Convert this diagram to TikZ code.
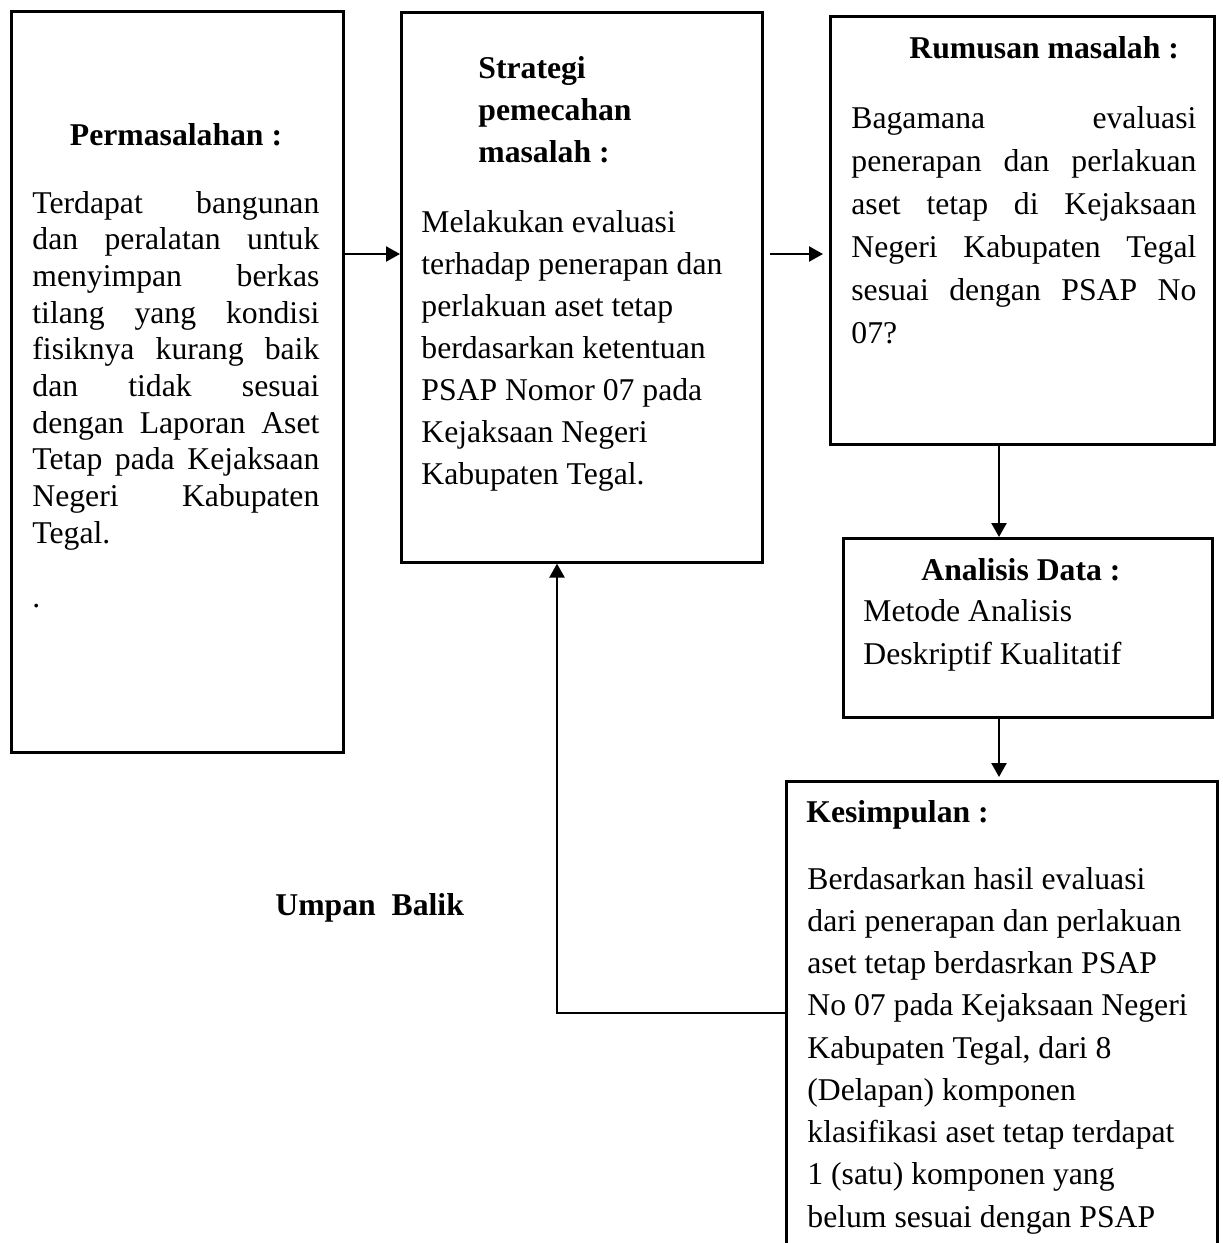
\documentclass[tikz,border=0pt]{standalone}
\usepackage{fontspec}
\setmainfont{Liberation Serif}
\usepackage{tikz}
\usetikzlibrary{arrows.meta}

\newcommand{\huruf}[1]{\fontsize{15.85pt}{#1}\selectfont}
\tolerance=10000
\hbadness=10000
\hyphenpenalty=10000

\begin{document}
\begin{tikzpicture}[
    x=0.5pt, y=-0.5pt,
    kotak/.style={rectangle, draw, line width=1.3pt, inner sep=0pt, anchor=north west},
    judul/.style={inner sep=0pt, anchor=base west, font=\huruf{21pt}\bfseries},
    isi/.style={inner sep=0pt, anchor=base west, font=\huruf{#1}},
    panah/.style={line width=1.2pt, -{Triangle[length=7pt,width=7.5pt]}}
]

\useasboundingbox (0,0) rectangle (1222,1243);
\clip (0,0) rectangle (1222,1243);

% kotak-kotak
\node[kotak, minimum width=166pt, minimum height=370.5pt] (masalah) at (10,10) {};
\node[kotak, minimum width=180.5pt, minimum height=275pt] (strategi) at (400,11) {};
\node[kotak, minimum width=192pt, minimum height=214pt] (rumusan) at (829,15) {};
\node[kotak, minimum width=184.5pt, minimum height=89.5pt] (analisis) at (842,537) {};
\node[kotak, minimum width=215.5pt, minimum height=260pt] (kesimpulan) at (785,780) {};

% isi kotak
\node[judul, anchor=base] (masalahjdl) at (176,145) {Permasalahan :};
\node[isi=18.35pt, text width=143.5pt, align=justify] (masalahisi) at (32,213)
    {Terdapat bangunan\linebreak dan peralatan untuk\linebreak menyimpan berkas\linebreak
     tilang yang kondisi\linebreak fisiknya kurang baik\linebreak dan tidak sesuai\linebreak
     dengan Laporan Aset\linebreak Tetap pada Kejaksaan\linebreak Negeri Kabupaten\linebreak
     Tegal.\par\vspace{13.65pt}.};

\node[judul, text width=150pt, align=flush left] (strategijdl) at (478,78) {Strategi\\ pemecahan\\ masalah :};
\node[isi=21pt, text width=170pt, align=flush left] (strategiisi) at (421,232)
    {Melakukan evaluasi\\ terhadap penerapan dan\\ perlakuan aset tetap\\ berdasarkan ketentuan\\
     PSAP Nomor 07 pada\\ Kejaksaan Negeri\\ Kabupaten Tegal.};

\node[judul] (rumusanjdl) at (909,58) {Rumusan masalah :};
\node[isi=21.5pt, text width=172.5pt, align=justify] (rumusanisi) at (851,128)
    {Bagamana evaluasi\linebreak penerapan dan perlakuan\linebreak aset tetap di Kejaksaan\linebreak
     Negeri Kabupaten Tegal\linebreak sesuai dengan PSAP No\linebreak 07?};

\node[judul] (analisisjdl) at (921,580) {Analisis Data :};
\node[isi=21.5pt, text width=170pt, align=flush left] (analisisisi) at (863,621)
    {Metode Analisis\\ Deskriptif Kualitatif};

\node[judul] (kesimpulanjdl) at (806,822) {Kesimpulan :};
\node[isi=21.125pt, text width=200pt, align=flush left] (kesimpulanisi) at (807,889)
    {Berdasarkan hasil evaluasi\\ dari penerapan dan perlakuan\\ aset tetap berdasrkan PSAP\\
     No 07 pada Kejaksaan Negeri\\ Kabupaten Tegal, dari 8\\ (Delapan) komponen\\
     klasifikasi aset tetap terdapat\\ 1 (satu) komponen yang\\ belum sesuai dengan PSAP};

\node[judul] (umpan) at (275,915) {Umpan~~Balik};

% panah
\coordinate (tingkat) at (0,254);
\coordinate (kolom) at (999,0);
\coordinate (balik) at (557,1013);

\draw[panah] (masalah.east |- tingkat) -- (strategi.west |- tingkat);
\draw[panah, shorten <=3pt, shorten >=3pt] (strategi.east |- tingkat) -- (rumusan.west |- tingkat);
\draw[panah] (rumusan.south -| kolom) -- (analisis.north -| kolom);
\draw[panah, shorten >=1.5pt] (analisis.south -| kolom) -- (kesimpulan.north -| kolom);
\draw[panah] (kesimpulan.west |- balik) -- (balik) -- (balik |- strategi.south);

\end{tikzpicture}
\end{document}
